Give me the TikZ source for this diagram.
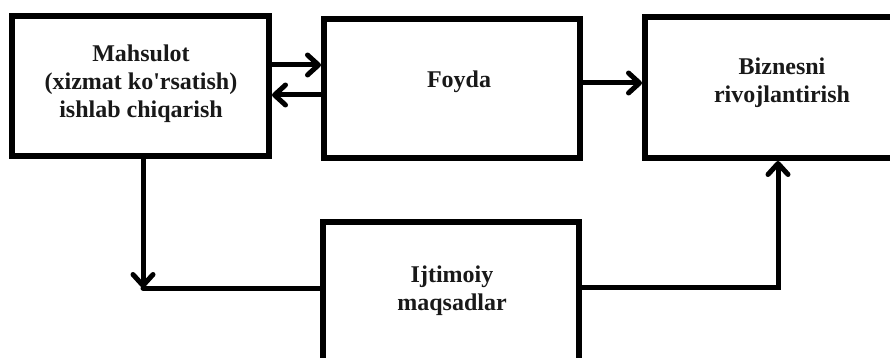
\documentclass[tikz,border=0pt]{standalone}
\usepackage{fontspec}
\setmainfont{Liberation Serif}
\usetikzlibrary{arrows.meta}
\begin{document}
\begin{tikzpicture}[x=1pt,y=-1pt,
  box/.style={draw=black,line width=6pt,rectangle,inner sep=0pt},
  lbl/.style={font=\bfseries\fontsize{24}{28}\selectfont,align=center,inner sep=0pt,text=black!90},
  conn/.style={draw=black,line width=5pt,line cap=round},
  tip/.style={-{Straight Barb[length=11pt,width=20pt,round]}}]
\useasboundingbox[fill=white] (0,0) rectangle (890,358);
% boxes
\node[box,minimum width=257pt,minimum height=140pt] (b1) at (140.5,86) {};
\node[box,minimum width=256pt,minimum height=139pt] (b2) at (452,88.5) {};
\node[box,minimum width=260pt,minimum height=141pt] (b3) at (775,87.5) {};
\node[box,minimum width=256pt,minimum height=160pt] (b4) at (451,302) {};
% texts
\node[lbl] (t1) at (141,84) {Mahsulot\\ (xizmat ko\textquotesingle rsatish)\\ ishlab chiqarish};
\node[lbl] (t2) at (459,82) {Foyda};
\node[lbl] (t3) at (782,83) {Biznesni\\ rivojlantirish};
\node[lbl] (t4) at (452,291) {Ijtimoiy\\ maqsadlar};
% connectors
\draw[conn,tip] (b1.east |- 0,65) -- (b2.west |- 0,65);
\draw[conn,tip] (b2.west |- 0,95) -- (b1.east |- 0,95);
\draw[conn,tip] (b2.east |- 0,83) -- (b3.west |- 0,83);
\coordinate (c1) at (143,288);
\coordinate (c2) at (778,287);
\draw[conn,tip] (b1.south -| c1) -- (c1);
\draw[conn] (c1) -- (b4.west |- c1);
\draw[conn,tip] (b4.east |- c2) -- (c2) -- (b3.south -| c2);
\end{tikzpicture}
\end{document}
